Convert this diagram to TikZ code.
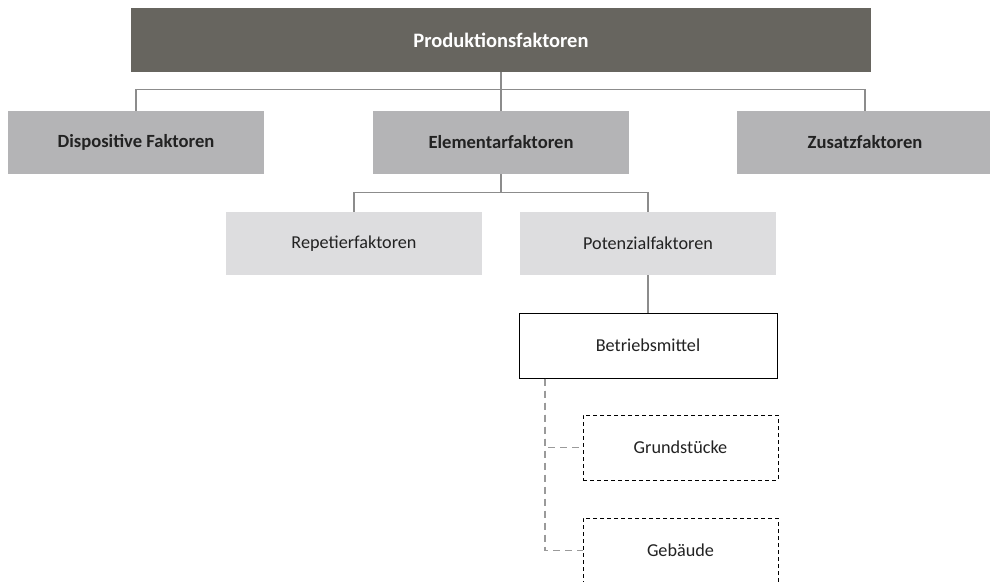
\documentclass[tikz,border=0pt]{standalone}
\usepackage{fontspec}
\setmainfont{Carlito}
\definecolor{topfill}{HTML}{67655F}
\definecolor{midfill}{HTML}{B4B4B6}
\definecolor{lowfill}{HTML}{DDDDDF}
\definecolor{linegray}{HTML}{8C8C8C}
\definecolor{dashgray}{HTML}{9A9A9A}
\definecolor{txt}{HTML}{222222}
\tikzset{
  box/.style={rectangle, inner sep=0pt, font=\fontsize{18.2}{21}\selectfont, text=txt},
  topbox/.style={box, fill=topfill, text=white, font=\bfseries\fontsize{20.5}{24}\selectfont, minimum width=740pt, minimum height=64pt},
  midbox/.style={box, fill=midfill, font=\bfseries\fontsize{18.6}{22}\selectfont, minimum width=256pt, minimum height=63pt},
  lowbox/.style={box, fill=lowfill, minimum width=256pt, minimum height=63pt},
  whitebox/.style={box, draw=black, line width=1pt, fill=white, minimum width=258pt, minimum height=65pt},
  dashbox/.style={box, draw=black, line width=0.9pt, dash pattern=on 4pt off 3pt, minimum width=195pt, minimum height=65pt},
  conn/.style={draw=linegray, line width=1.2pt},
  dconn/.style={draw=dashgray, line width=1.2pt, dash pattern=on 7pt off 5pt}
}
\begin{document}
\begin{tikzpicture}[x=1pt, y=-1pt]
\useasboundingbox (0,0) rectangle (990,581);
\node[topbox] (top) at (501,40) {Produktionsfaktoren};
\node[midbox] (disp) at (136,142.5) {Dispositive Faktoren};
\node[midbox] (elem) at (501,142.5) {Elementarfaktoren};
\node[midbox] (zus) at (865,142.5) {Zusatzfaktoren};
\node[lowbox] (rep) at (354,243.5) {Repetierfaktoren};
\node[lowbox] (pot) at (648,243.5) {Potenzialfaktoren};
\node[whitebox] (betr) at (648,345.5) {Betriebsmittel};
\node[dashbox] (grund) at (680.5,447.5) {Grundstücke};
\node[dashbox] (geb) at (680.5,550.5) {Gebäude};
\draw[conn] (top.south) -- (elem.north);
\draw[conn] (disp.north) -- ++(0,-21) -| (zus.north);
\draw[conn] (elem.south) -- ++(0,19);
\draw[conn] (rep.north) -- ++(0,-19.5) -| (pot.north);
\draw[conn] (pot.south) -- (betr.north);
\coordinate (dv) at ([xshift=-103pt]betr.south);
\draw[dconn] (dv) |- (grund.west);
\draw[dconn] (dv) |- (geb.west);
\end{tikzpicture}
\end{document}
